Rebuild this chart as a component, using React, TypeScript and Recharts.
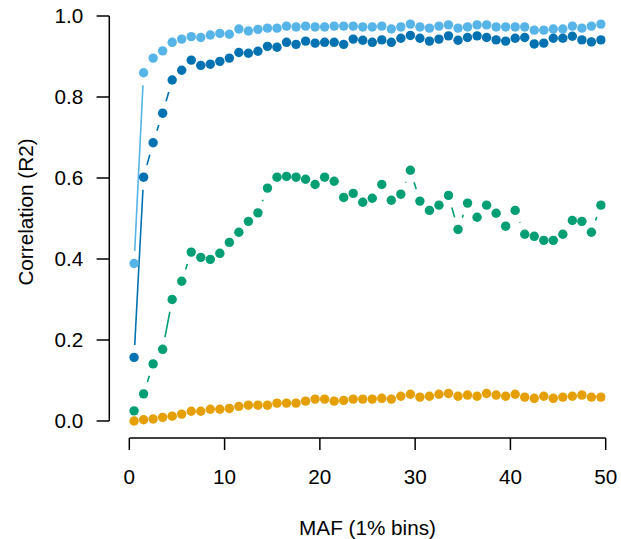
import React from 'react';
import { LineChart, Line, XAxis, YAxis, ReferenceLine, Label } from 'recharts';

const mafBins = [
  0.5, 1.5, 2.5, 3.5, 4.5, 5.5, 6.5, 7.5, 8.5, 9.5,
  10.5, 11.5, 12.5, 13.5, 14.5, 15.5, 16.5, 17.5, 18.5, 19.5,
  20.5, 21.5, 22.5, 23.5, 24.5, 25.5, 26.5, 27.5, 28.5, 29.5,
  30.5, 31.5, 32.5, 33.5, 34.5, 35.5, 36.5, 37.5, 38.5, 39.5,
  40.5, 41.5, 42.5, 43.5, 44.5, 45.5, 46.5, 47.5, 48.5, 49.5,
];

const lightBlue = [
  0.389, 0.860, 0.896, 0.914, 0.935, 0.943, 0.949, 0.947, 0.953, 0.957,
  0.955, 0.968, 0.963, 0.967, 0.970, 0.970, 0.975, 0.973, 0.975, 0.973,
  0.973, 0.975, 0.975, 0.975, 0.973, 0.973, 0.975, 0.968, 0.973, 0.980,
  0.973, 0.970, 0.975, 0.978, 0.970, 0.973, 0.978, 0.978, 0.973, 0.973,
  0.973, 0.973, 0.965, 0.965, 0.968, 0.968, 0.975, 0.970, 0.975, 0.980,
];

const darkBlue = [
  0.157, 0.602, 0.687, 0.760, 0.842, 0.866, 0.891, 0.878, 0.881, 0.888,
  0.896, 0.910, 0.908, 0.913, 0.925, 0.923, 0.935, 0.930, 0.938, 0.933,
  0.935, 0.935, 0.930, 0.943, 0.940, 0.935, 0.941, 0.935, 0.945, 0.952,
  0.945, 0.938, 0.943, 0.951, 0.940, 0.947, 0.951, 0.947, 0.941, 0.938,
  0.945, 0.947, 0.931, 0.933, 0.945, 0.945, 0.950, 0.941, 0.936, 0.941,
];

const green = [
  0.025, 0.067, 0.141, 0.177, 0.300, 0.345, 0.417, 0.404, 0.399, 0.414,
  0.441, 0.466, 0.493, 0.514, 0.575, 0.602, 0.604, 0.602, 0.597, 0.584,
  0.602, 0.592, 0.552, 0.562, 0.540, 0.550, 0.584, 0.545, 0.560, 0.619,
  0.543, 0.520, 0.533, 0.557, 0.473, 0.538, 0.503, 0.533, 0.513, 0.481,
  0.520, 0.461, 0.456, 0.446, 0.446, 0.461, 0.495, 0.493, 0.466, 0.533,
];

const orange = [
  0.000, 0.003, 0.005, 0.009, 0.012, 0.017, 0.024, 0.024, 0.029, 0.029,
  0.031, 0.036, 0.039, 0.039, 0.039, 0.044, 0.044, 0.044, 0.049, 0.054,
  0.054, 0.049, 0.051, 0.054, 0.054, 0.054, 0.056, 0.054, 0.061, 0.066,
  0.059, 0.061, 0.066, 0.068, 0.061, 0.064, 0.061, 0.068, 0.064, 0.061,
  0.066, 0.059, 0.056, 0.061, 0.056, 0.059, 0.061, 0.064, 0.059, 0.059,
];

const xTicks = [0, 10, 20, 30, 40, 50];
const yTicks = [0, 0.2, 0.4, 0.6, 0.8, 1.0];

const X_MIN = -2.1;
const X_MAX = 50;
const Y_MIN = -0.042;
const Y_MAX = 1;

const FONT = '"Liberation Sans", Arial, Helvetica, sans-serif';
const FS = 20.7;

const data = mafBins.map((m, i) => ({
  maf: m,
  lb: lightBlue[i],
  db: darkBlue[i],
  gr: green[i],
  or: orange[i],
}));

// R-style type="b" line: segments between points with a gap around each point
const gapCurve = (gap: number) => (context: any) => {
  let prev: [number, number] | null = null;
  return {
    areaStart() {},
    areaEnd() {},
    lineStart() {
      prev = null;
    },
    lineEnd() {},
    point(x: number, y: number) {
      x = +x;
      y = +y;
      if (prev) {
        const dx = x - prev[0];
        const dy = y - prev[1];
        const d = Math.hypot(dx, dy);
        if (d > 2 * gap) {
          const ux = dx / d;
          const uy = dy / d;
          context.moveTo(prev[0] + ux * gap, prev[1] + uy * gap);
          context.lineTo(x - ux * gap, y - uy * gap);
        }
      }
      prev = [x, y];
    },
  };
};

const curve = gapCurve(12.5);

const series = [
  { key: 'lb', color: '#56B4E9' },
  { key: 'db', color: '#0072B2' },
  { key: 'gr', color: '#009E73' },
  { key: 'or', color: '#E69F00' },
];

export default function App() {
  return (
    <div style={{ position: 'absolute', left: 0, top: 0, width: 621, height: 539, background: '#fff' }}>
      <LineChart
        width={621}
        height={539}
        data={data}
        margin={{ top: 16, right: 15.3, bottom: 0, left: 0 }}
      >
        <XAxis
          dataKey="maf"
          type="number"
          domain={[X_MIN, X_MAX]}
          allowDataOverflow
          ticks={xTicks}
          interval={0}
          height={101}
          axisLine={false}
          stroke="#000"
          tickLine={{ stroke: '#000', strokeWidth: 1.5 }}
          tickSize={12}
          tickMargin={19}
          tick={{ fill: '#000', fontSize: FS, fontFamily: FONT }}
        >
          <Label
            content={() => (
              <text
                x={367.5}
                y={527}
                textAnchor="middle"
                dominantBaseline="central"
                fill="#000"
                fontSize={FS}
                fontFamily={FONT}
              >
                MAF (1% bins)
              </text>
            )}
          />
        </XAxis>
        <YAxis
          type="number"
          domain={[Y_MIN, Y_MAX]}
          allowDataOverflow
          ticks={yTicks}
          interval={0}
          width={109.3}
          axisLine={false}
          stroke="#000"
          tickLine={{ stroke: '#000', strokeWidth: 1.5 }}
          tickSize={12.7}
          tickMargin={13.3}
          tickFormatter={(v: number) => v.toFixed(1)}
          tick={{ fill: '#000', fontSize: FS, fontFamily: FONT }}
        >
          <Label
            content={() => (
              <text
                x={25}
                y={212}
                transform="rotate(-90 25 212)"
                textAnchor="middle"
                dominantBaseline="central"
                fill="#000"
                fontSize={FS}
                fontFamily={FONT}
              >
                Correlation (R2)
              </text>
            )}
          />
        </YAxis>
        <ReferenceLine
          segment={[{ x: 0, y: Y_MIN }, { x: 50, y: Y_MIN }]}
          stroke="#000"
          strokeWidth={1.5}
          ifOverflow="visible"
        />
        <ReferenceLine
          segment={[{ x: X_MIN, y: 0 }, { x: X_MIN, y: 1 }]}
          stroke="#000"
          strokeWidth={1.5}
          ifOverflow="visible"
        />
        {series.map((s) => (
          <Line
            key={s.key}
            dataKey={s.key}
            type={curve as any}
            stroke={s.color}
            strokeWidth={1.6}
            dot={{ r: 4.7, fill: s.color, stroke: 'none', strokeWidth: 0 }}
            activeDot={false}
            isAnimationActive={false}
          />
        ))}
      </LineChart>
    </div>
  );
}
